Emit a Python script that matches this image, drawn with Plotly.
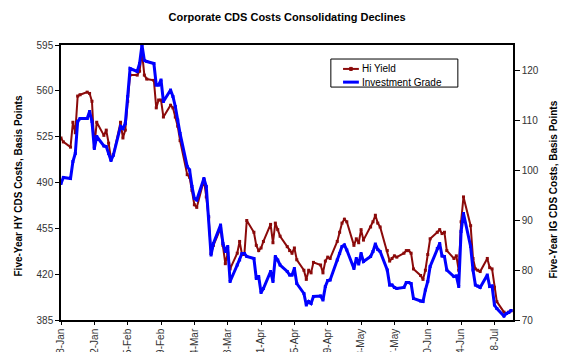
import pandas as pd
import plotly.graph_objects as go

# Five-year CDS costs, one value per business day starting 8-Jan
start_date = "2004-01-08"

hi_yield = [
    524, 521, 517, 536, 528, 556, 557, 559, 558, 552,
    517, 536, 526, 530, 520, 508, 511, 536, 524, 530,
    552, 572, 572, 575, 590, 572, 569,
    568, 547, 553, 553, 540, 549, 547, 540, 533, 522,
    496, 494, 484, 473, 471, 492, 479, 463, 436, 442,
    455, 442, 428, 436, 424, 436, 445,
    435, 435, 461, 452, 442, 438, 440, 445, 458, 444,
    459, 454, 449, 441, 438, 436, 440, 431, 423, 416,
    423, 421, 429, 427, 421, 430, 433,
    432, 445, 452, 459, 462, 460, 442, 447, 444, 454,
    446, 456, 460, 465, 459, 456, 438, 430, 432, 434,
    433, 436, 438, 438, 436, 424, 419,
    416, 423, 435, 447, 452, 454, 451, 452, 438, 432,
    434, 423, 460, 479, 457, 432, 424, 423, 422, 432,
    425, 424, 410, 399, 391, 390, 391, 392,
]

investment_grade = [
    97.3, 98.5, 98.3, 101.7, 103.3, 109.7, 110.3, 110.3, 111.7, 109.7,
    104.3, 106.7, 104.8, 104.7, 103.3, 101.9, 103.0, 108.7, 108.3, 109.3,
    114.7, 120.3, 119.7, 121.3, 125.0, 121.9, 121.7,
    121.3, 117.0, 117.0, 118.0, 113.7, 116.0, 114.7, 112.7, 110.0, 107.3,
    100.7, 100.0, 96.7, 94.3, 94.0, 98.3, 96.7, 90.7, 83.0, 85.3,
    89.0, 85.3, 83.7, 84.7, 77.7, 81.0, 82.0,
    83.3, 83.3, 82.7, 82.3, 78.3, 78.7, 75.5, 76.3, 79.7, 77.7,
    82.7, 82.0, 81.0, 79.7, 79.0, 79.0, 80.3, 77.3, 75.3, 73.0,
    73.7, 73.3, 74.7, 74.8, 74.0, 76.7, 77.9,
    78.0, 82.0, 83.3, 84.7, 85.0, 84.0, 80.3, 82.3, 81.2, 83.3,
    81.7, 82.7, 83.7, 85.2, 84.1, 83.7, 80.0, 77.0, 77.0, 76.5,
    76.3, 76.5, 77.5, 77.5, 77.3, 74.3, 73.8,
    73.7, 76.0, 77.7, 80.7, 84.3, 85.3, 82.8, 82.7, 80.0, 78.7,
    78.8, 76.7, 87.7, 91.3, 84.7, 80.0, 77.0, 76.8, 76.5, 79.0,
    76.7, 76.8, 73.0, 72.3, 70.8, 71.3, 71.5, 71.9,
]

dates = pd.bdate_range(start_date, periods=len(hi_yield))

hy_ticks = [385, 420, 455, 490, 525, 560, 595]
ig_ticks = [70, 80, 90, 100, 110, 120]

series_names = ["Hi Yield", "Investment Grade"]
hy_color = "#8B0A0A"
ig_color = "#0000FF"

font_family = "Liberation Sans, Arial, sans-serif"
axis_color = "#000000"
text_color = "#333333"

fig = go.Figure()

fig.add_trace(go.Scatter(
    x=dates, y=hi_yield, name=series_names[0], mode="lines+markers",
    line=dict(color=hy_color, width=2),
    marker=dict(symbol="square", size=3, color=hy_color),
    yaxis="y",
))

fig.add_trace(go.Scatter(
    x=dates, y=investment_grade, name=series_names[1], mode="lines+markers",
    line=dict(color=ig_color, width=3),
    marker=dict(symbol="square", size=3, color=ig_color),
    yaxis="y2",
))

# Compact boxed legend drawn in paper coordinates
legend_box = dict(x0=0.597, x1=0.878, y0=0.847, y1=0.949)
legend_rows = [0.913, 0.865]
sample_x = (0.624, 0.659)
shapes = [
    dict(type="rect", xref="paper", yref="paper", **legend_box,
         line=dict(color="#000000", width=1), fillcolor="white", layer="above"),
    dict(type="line", xref="paper", yref="paper",
         x0=sample_x[0], x1=sample_x[1], y0=legend_rows[0], y1=legend_rows[0],
         line=dict(color=hy_color, width=2), layer="above"),
    dict(type="rect", xref="paper", yref="paper",
         x0=0.6385, x1=0.6445, y0=legend_rows[0] - 0.0055, y1=legend_rows[0] + 0.0055,
         line=dict(color=hy_color, width=1), fillcolor=hy_color, layer="above"),
    dict(type="line", xref="paper", yref="paper",
         x0=sample_x[0], x1=sample_x[1], y0=legend_rows[1], y1=legend_rows[1],
         line=dict(color=ig_color, width=3), layer="above"),
]

annotations = [
    dict(text=name, xref="paper", yref="paper", x=0.662, y=row,
         xanchor="left", yanchor="middle", showarrow=False,
         font=dict(family=font_family, size=10, color="#000000"))
    for name, row in zip(series_names, legend_rows)
] + [
    dict(
        text="<b>Five-Year HY CDS Costs, Basis Points</b>",
        xref="paper", yref="paper", x=-0.093, y=0.489,
        xanchor="center", yanchor="middle", textangle=-90, showarrow=False,
        font=dict(family=font_family, size=10, color="#000000"),
    ),
    dict(
        text="<b>Five-Year IG CDS Costs, Basis Points</b>",
        xref="paper", yref="paper", x=1.09, y=0.473,
        xanchor="center", yanchor="middle", textangle=-90, showarrow=False,
        font=dict(family=font_family, size=10, color="#000000"),
    ),
]

fig.update_layout(
    width=563, height=352,
    margin=dict(l=61, r=50, t=45, b=32),
    paper_bgcolor="white", plot_bgcolor="white",
    font=dict(family=font_family, size=10, color=text_color),
    showlegend=False,
    title=dict(
        text="<b>Corporate CDS Costs Consolidating Declines</b>",
        x=0.51, xanchor="center", y=0.952, yanchor="middle", yref="container",
        font=dict(family=font_family, size=11, color="#000000"),
    ),
    xaxis=dict(
        type="date", automargin=False,
        range=["2004-01-08", "2004-07-15 19:00"],
        tick0="2004-01-08", dtick=14 * 86400000,
        tickformat="%-d-%b", tickangle=-90,
        ticks="outside", ticklen=3, tickcolor=axis_color,
        showline=True, linecolor=axis_color, linewidth=1.5, mirror=True,
        showgrid=False, zeroline=False,
        tickfont=dict(size=10, color=text_color),
    ),
    yaxis=dict(
        range=[385, 595], tickvals=hy_ticks, automargin=False,
        ticks="outside", ticklen=4, tickcolor=axis_color,
        showline=True, linecolor=axis_color, linewidth=1.5,
        showgrid=False, zeroline=False,
        tickfont=dict(size=10, color=text_color),
    ),
    yaxis2=dict(
        range=[70, 125], tickvals=ig_ticks, automargin=False,
        overlaying="y", side="right",
        ticks="outside", ticklen=5, tickcolor=axis_color,
        showline=True, linecolor=axis_color, linewidth=1.5,
        showgrid=False, zeroline=False,
        tickfont=dict(size=10, color=text_color),
    ),
    shapes=shapes,
    annotations=annotations,
)

fig.write_html("out.html")
